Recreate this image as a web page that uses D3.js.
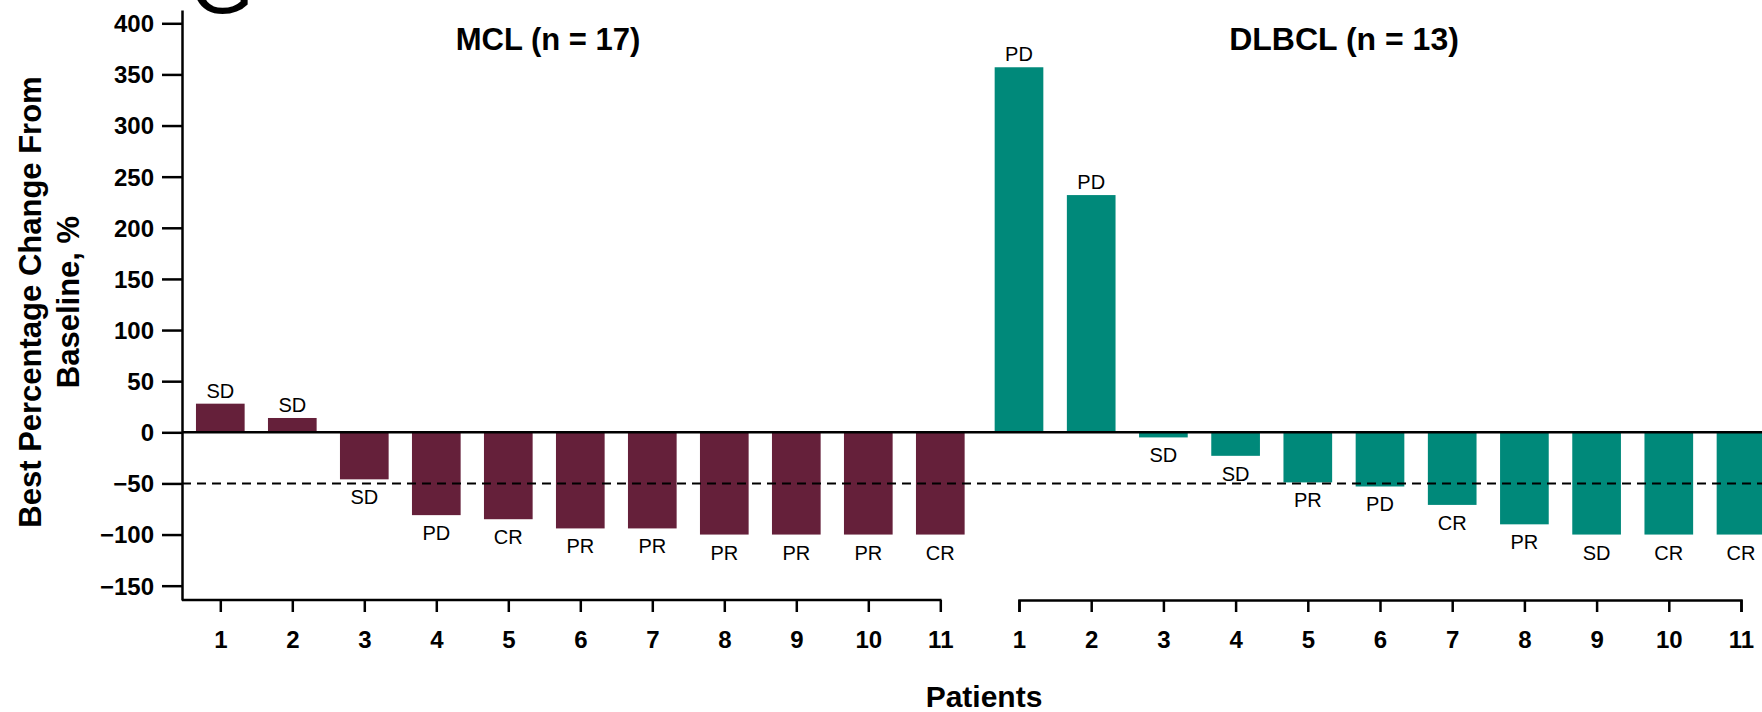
<!DOCTYPE html>
<html>
<head>
  <meta charset="utf-8">
  <script src="https://d3js.org/d3.v7.min.js"></script>
  <style>
    body { margin: 0; background: #fff; }
    svg text { font-family: "Liberation Sans", Arial, sans-serif; fill: #000; }
  </style>
</head>
<body>
  <div id="chart"></div>
  <script>
    // patients shown per panel
    const mclPatients = ["1", "2", "3", "4", "5", "6", "7", "8", "9", "10", "11"];
    const mclChange = [28, 14, -46, -81, -85, -94, -94, -100, -100, -100, -100];
    const mclResponse = ["SD", "SD", "SD", "PD", "CR", "PR", "PR", "PR", "PR", "PR", "CR"];

    const dlbclPatients = ["1", "2", "3", "4", "5", "6", "7", "8", "9", "10", "11"];
    const dlbclChange = [357, 232, -5, -23, -49, -53, -71, -90, -100, -100, -100];
    const dlbclResponse = ["PD", "PD", "SD", "SD", "PR", "PD", "CR", "PR", "SD", "CR", "CR"];

    const yTicks = [-150, -100, -50, 0, 50, 100, 150, 200, 250, 300, 350, 400];
    const threshold = -50;

    var width = 1762, height = 712;
    var axisX = 182;

    var svg = d3.select("#chart").append("svg")
      .attr("width", width)
      .attr("height", height);

    // y scale: axis line runs from 10 to 600
    var y = d3.scaleLinear().domain([-164, 413]).range([600, 10]);

    var xMcl = d3.scalePoint().domain(mclPatients).range([220.3, 940.3]);
    var xDlbcl = d3.scalePoint().domain(dlbclPatients).range([1019, 1741]);
    var barW = xMcl.step() * 0.676;

    var fmt = function(d) { return d < 0 ? "\u2212" + Math.abs(d) : d; };

    // panel letter, cut off by the top edge as in the source slide
    svg.append("text")
      .attr("x", 222).attr("y", 13)
      .attr("text-anchor", "middle")
      .style("font-size", "82px")
      .text("G");

    // y axis
    var yAxis = svg.append("g")
      .attr("transform", "translate(" + axisX + ",0)")
      .call(d3.axisLeft(y).tickValues(yTicks).tickSize(20).tickSizeOuter(0).tickFormat(fmt));
    yAxis.select(".domain").attr("stroke-width", 2.5);
    yAxis.selectAll(".tick line").attr("stroke-width", 2.5);
    yAxis.selectAll(".tick text")
      .attr("x", -28)
      .attr("dy", "0.35em")
      .style("font-size", "24px")
      .style("font-weight", "bold");

    function panel(xs, patients, values, responses, color) {
      var data = patients.map(function(p, i) {
        return { p: p, v: values[i], r: responses[i] };
      });

      svg.append("g").selectAll("rect")
        .data(data).enter().append("rect")
        .attr("x", function(d) { return xs(d.p) - barW / 2; })
        .attr("y", function(d) { return y(Math.max(0, d.v)); })
        .attr("width", barW)
        .attr("height", function(d) { return Math.abs(y(d.v) - y(0)); })
        .attr("fill", color);

      svg.append("g").selectAll("text")
        .data(data).enter().append("text")
        .attr("x", function(d) { return xs(d.p); })
        .attr("y", function(d) { return d.v >= 0 ? y(d.v) - 6 : y(d.v) + 25; })
        .attr("text-anchor", "middle")
        .style("font-size", "20px")
        .text(function(d) { return d.r; });
    }

    panel(xMcl, mclPatients, mclChange, mclResponse, "#65203a");
    panel(xDlbcl, dlbclPatients, dlbclChange, dlbclResponse, "#00897a");

    // zero line and -50% threshold
    svg.append("line")
      .attr("x1", axisX).attr("x2", width)
      .attr("y1", y(0)).attr("y2", y(0))
      .attr("stroke", "#000").attr("stroke-width", 2.5);
    svg.append("line")
      .attr("x1", axisX).attr("x2", width)
      .attr("y1", y(threshold)).attr("y2", y(threshold))
      .attr("stroke", "#000").attr("stroke-width", 2)
      .attr("stroke-dasharray", "9,6");

    // x axes
    var axisY = y(-164);
    function xAxis(xs, keepDomain) {
      var g = svg.append("g")
        .attr("transform", "translate(0," + axisY + ")")
        .call(d3.axisBottom(xs).tickSize(12).tickSizeOuter(12));
      g.select(".domain").attr("stroke-width", 2.5);
      if (!keepDomain) g.select(".domain").remove();
      g.selectAll(".tick line").attr("stroke-width", 2.5);
      g.selectAll(".tick text")
        .attr("y", 48)
        .attr("dy", 0)
        .style("font-size", "24px")
        .style("font-weight", "bold");
      return g;
    }
    xAxis(xMcl, false);
    svg.append("line")
      .attr("x1", axisX).attr("x2", xMcl.range()[1] + 1.25)
      .attr("y1", axisY).attr("y2", axisY)
      .attr("stroke", "#000").attr("stroke-width", 2.5);
    xAxis(xDlbcl, true);

    // panel titles
    svg.append("text")
      .attr("x", 548).attr("y", 50)
      .attr("text-anchor", "middle")
      .style("font-size", "31px").style("font-weight", "bold")
      .text("MCL (n = 17)");
    svg.append("text")
      .attr("x", 1344).attr("y", 50)
      .attr("text-anchor", "middle")
      .style("font-size", "32px").style("font-weight", "bold")
      .text("DLBCL (n = 13)");

    // axis titles
    svg.append("text")
      .attr("x", 984).attr("y", 707)
      .attr("text-anchor", "middle")
      .style("font-size", "30px").style("font-weight", "bold")
      .text("Patients");

    var yTitle = svg.append("text")
      .attr("transform", "translate(0,302) rotate(-90)")
      .attr("text-anchor", "middle")
      .style("font-size", "31px").style("font-weight", "bold");
    yTitle.append("tspan").attr("x", 0).attr("y", 41).text("Best Percentage Change From");
    yTitle.append("tspan").attr("x", 0).attr("y", 79).text("Baseline, %");
  </script>
</body>
</html>
